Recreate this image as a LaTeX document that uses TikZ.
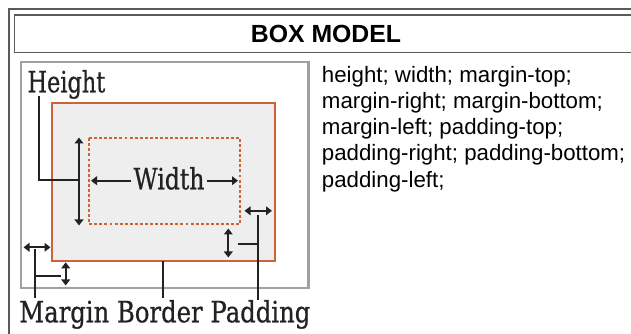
\documentclass[tikz,border=0pt]{standalone}
\usepackage{fontspec}
\usepackage{graphicx}
\setmainfont{Liberation Sans}
\newfontfamily\lblfont[FakeBold=0.8]{DejaVu Serif}
\usetikzlibrary{arrows.meta}
\definecolor{framegray}{HTML}{5A5A5A}
\definecolor{imggray}{HTML}{A0A0A0}
\definecolor{boxorange}{HTML}{CF6338}
\definecolor{boxfill}{HTML}{EEEEEE}
\definecolor{inkdark}{HTML}{222222}
\newcommand\fitlbl[3]{\resizebox{#1}{#2}{\lblfont #3}}
\tikzset{
  tableline/.style={draw=framegray, line width=0.9pt},
  imgframe/.style={draw=imggray, line width=1.6pt, fill=white},
  borderbox/.style={draw=boxorange, line width=1.6pt, fill=boxfill},
  padbox/.style={draw=boxorange, line width=1.4pt, dash pattern=on 2.2pt off 1.6pt},
  conn/.style={draw=inkdark, line width=1.5pt},
  dblarrow/.style={draw=inkdark, line width=1.5pt, {Triangle[length=4.5pt,width=6.5pt]}-{Triangle[length=4.5pt,width=6.5pt]}},
  onearrow/.style={draw=inkdark, line width=1.5pt, -{Triangle[length=4.5pt,width=6.5pt]}},
  lbl/.style={inner sep=0pt, text=inkdark},
  bodytext/.style={inner sep=0pt, anchor=base west, font=\fontsize{16.7pt}{19.6pt}\selectfont},
}
\begin{document}
\begin{tikzpicture}[x=0.75pt,y=-0.75pt]
\useasboundingbox (0,0) rectangle (631,334);
% table frame
\coordinate (tr) at (640,9);
\coordinate (tl) at (9,9);
\coordinate (bl) at (9,340);
\draw[tableline] (tr) -- (tl) -- (bl);
\coordinate (ttr) at (640,15);
\coordinate (ttl) at (14.5,15);
\coordinate (tbl) at (14.5,52.5);
\coordinate (tbr) at (640,52.5);
\draw[tableline] (ttr) -- (ttl) -- (tbl) -- (tbr);
\node[inner sep=0pt, font=\fontsize{18.6pt}{20pt}\selectfont\bfseries] (title) at (326,34) {BOX MODEL};
% image frame
\draw[imgframe] (20.7,62.3) rectangle (308.5,288.3);
\draw[borderbox] (52.3,103.3) rectangle (275.3,261);
\draw[padbox] (88.8,138.3) rectangle (240.3,224);
% labels
\node[lbl, anchor=base west] (hgt) at (27.3,92.3) {\fitlbl{58.3pt}{16.7pt}{Height}};
\node[lbl, anchor=base] (wid) at (169,189.3) {\fitlbl{53.2pt}{16.7pt}{Width}};
\node[lbl, anchor=base west] (mbp) at (19,322.3) {\fitlbl{218.3pt}{16.7pt}{Margin Border Padding}};
% height
\coordinate (h1) at (39,96.5);
\coordinate (h2) at (39,180);
\coordinate (h3) at (79,180);
\draw[conn] (h1) -- (h2) -- (h3);
\coordinate (hat) at (79,137.5);
\coordinate (hab) at (79,225.5);
\draw[dblarrow] (hat) -- (hab);
% width
\coordinate (wl) at (91,180.7);
\coordinate (wr) at (238,180.7);
\draw[onearrow] (wid.west |- wl) ++(-2,0) -- (wl);
\draw[onearrow] (wid.east |- wr) ++(2,0) -- (wr);
% padding
\coordinate (prl) at (244.5,210.8);
\coordinate (prr) at (272,210.8);
\draw[dblarrow] (prl) -- (prr);
\coordinate (pv1) at (258.3,215.5);
\coordinate (pv2) at (258.3,300);
\draw[conn] (pv1) -- (pv2);
\coordinate (pbr) at (237.7,244.5);
\draw[conn] (pbr) -- (pbr -| pv1);
\coordinate (pbt) at (228.3,228.5);
\coordinate (pbb) at (228.3,257.5);
\draw[dblarrow] (pbt) -- (pbb);
% margin
\coordinate (mll) at (23.5,247.3);
\coordinate (mlr) at (50.5,247.3);
\draw[dblarrow] (mll) -- (mlr);
\coordinate (mv1) at (35,249.5);
\coordinate (mv2) at (35,298);
\draw[conn] (mv1) -- (mv2);
\coordinate (mbr) at (60.5,276);
\draw[conn] (mbr -| mv1) -- (mbr);
\coordinate (mbt) at (65.7,262.3);
\coordinate (mbb) at (65.7,285.5);
\draw[dblarrow] (mbt) -- (mbb);
% border
\coordinate (bv1) at (162.7,261);
\coordinate (bv2) at (162.7,298);
\draw[conn] (bv1) -- (bv2);
% property list
\node[bodytext] (p1) at (321.7,82.3) {height; width; margin-top;};
\node[bodytext] (p2) at (321.7,108.5) {margin-right; margin-bottom;};
\node[bodytext] (p3) at (321.7,134.7) {margin-left; padding-top;};
\node[bodytext] (p4) at (321.7,160.9) {padding-right; padding-bottom;};
\node[bodytext] (p5) at (321.7,187.1) {padding-left;};
\end{tikzpicture}
\end{document}
